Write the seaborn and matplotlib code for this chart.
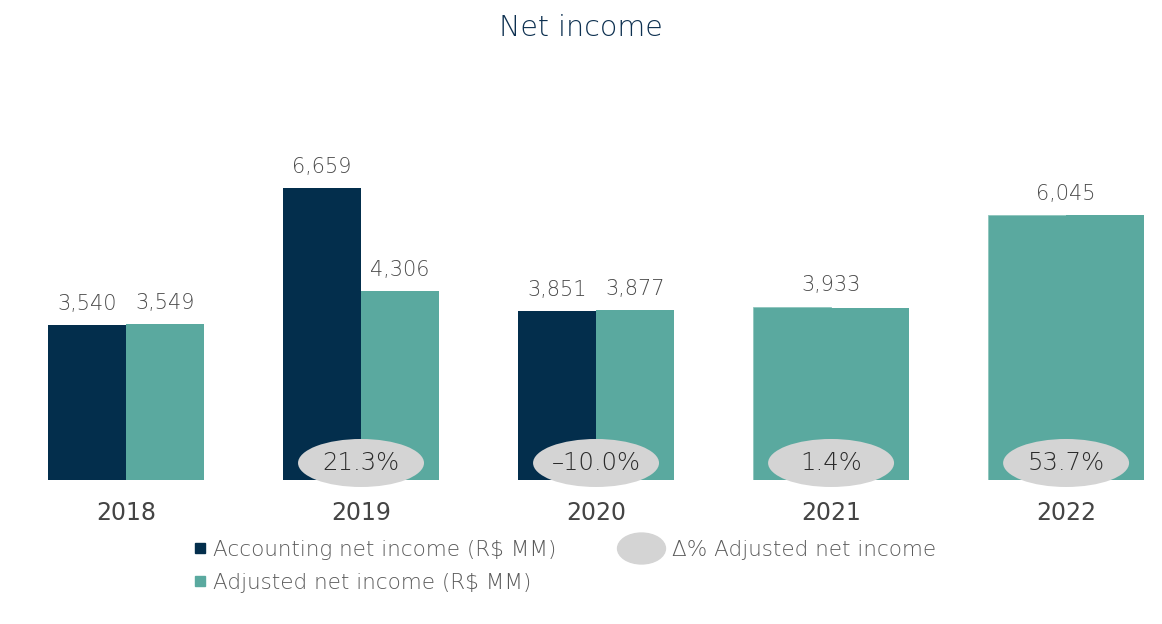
import pandas as pd
import matplotlib.pyplot as plt
import seaborn as sns
from matplotlib.patches import Ellipse
from matplotlib.lines import Line2D
from matplotlib.path import Path
from matplotlib.transforms import Affine2D

# values
years = ["2018", "2019", "2020", "2021", "2022"]
accounting = [3540, 6659, 3851, 3955, 6045]
adjusted = [3549, 4306, 3877, 3933, 6045]
delta_pct = ["", "21.3%", "-10.0%", "1.4%", "53.7%"]
merged_years = ["2021", "2022"]  # accounting shown same as adjusted

acc_name = "Accounting net income (R$ MM)"
adj_name = "Adjusted net income (R$ MM)"
delta_name = "\u0394% Adjusted net income"

navy = "#032e4c"
teal = "#5aa99f"
oval = "#d4d4d4"

df = pd.DataFrame({
    "year": years * 2,
    "value": accounting + adjusted,
    "series": [acc_name] * len(years) + [adj_name] * len(years),
})

sns.set_theme(style="white")
plt.rcParams["font.family"] = ["DejaVu Sans"]
LW = 200  # light weight

fig = plt.figure(figsize=(11.62, 6.24), dpi=100)
W, H = 1162, 624
ax = fig.add_axes([20 / W, (H - 480) / H, 1130 / W, 420 / H])

sns.barplot(data=df, x="year", y="value", hue="series", order=years,
            hue_order=[acc_name, adj_name], palette=[navy, teal],
            width=0.667, gap=0, saturation=1, legend=False, ax=ax)

ax.set_xlim(-0.451, 4.357)
ax.set_ylim(0, 9578)

# recolor accounting bars of merged years and add labels
acc_bars = ax.containers[0]
adj_bars = ax.containers[1]
lbl = dict(textcoords="offset points", ha="center", va="bottom",
           fontsize=15, color="#4a4a4a", fontweight=LW)
for i, y in enumerate(years):
    a, b = acc_bars[i], adj_bars[i]
    a.set_linewidth(0)
    b.set_linewidth(0)
    if y in merged_years:
        a.set_facecolor(teal)
        a.set_edgecolor("#8ec5bd")
        a.set_linewidth(0.6)
        ax.annotate(f"{adjusted[i]:,}", (i, max(accounting[i], adjusted[i])),
                    xytext=(0, 8), **lbl)
    else:
        for bar, v in ((a, accounting[i]), (b, adjusted[i])):
            ax.annotate(f"{v:,}", (bar.get_x() + bar.get_width() / 2, v),
                        xytext=(0, 8), **lbl)

# delta ovals
for i, txt in enumerate(delta_pct):
    if not txt:
        continue
    ax.add_patch(Ellipse((i, 388), 0.536, 1095, facecolor=oval,
                         edgecolor="none", clip_on=False, zorder=3))
    ax.text(i, 388, txt.replace("-", "\u2013"), ha="center", va="center",
            fontsize=17.5, color="#2b2b2b", fontweight=LW, zorder=4)

ax.set_xlabel("")
ax.set_ylabel("")
ax.set_yticks([])
ax.tick_params(axis="x", length=0, pad=15, labelsize=17, labelcolor="#444444")
for s in ax.spines.values():
    s.set_visible(False)

fig.text(0.5, (H - 28) / H, "Net income", ha="center", va="center",
         fontsize=20.5, color="#0d3050", fontweight=LW)

# legends
ell = Path.unit_circle().transformed(Affine2D().scale(1.55, 1.0))
leg_font = {"weight": LW, "size": 15.5}
h_bars = [
    Line2D([], [], marker="s", linestyle="none", markersize=6.5, color=navy),
    Line2D([], [], marker="s", linestyle="none", markersize=6.5, color=teal),
]
fig.legend(h_bars, [acc_name, adj_name], loc="upper left",
           bbox_to_anchor=(194 / W, (H - 540) / H), frameon=False,
           prop=leg_font, labelcolor="#5a5a5a", handlelength=0.6,
           handletextpad=0.3, labelspacing=0.6, borderpad=0,
           borderaxespad=0)
h_delta = [Line2D([], [], marker=ell, linestyle="none", markersize=34.5,
                  color=oval)]
fig.legend(h_delta, [delta_name], loc="upper left",
           bbox_to_anchor=(617 / W, (H - 540) / H), frameon=False,
           prop=leg_font, labelcolor="#5a5a5a", handlelength=2.23,
           handletextpad=0.33, borderpad=0, borderaxespad=0)

fig.savefig("out.png", dpi=100, facecolor="white")
